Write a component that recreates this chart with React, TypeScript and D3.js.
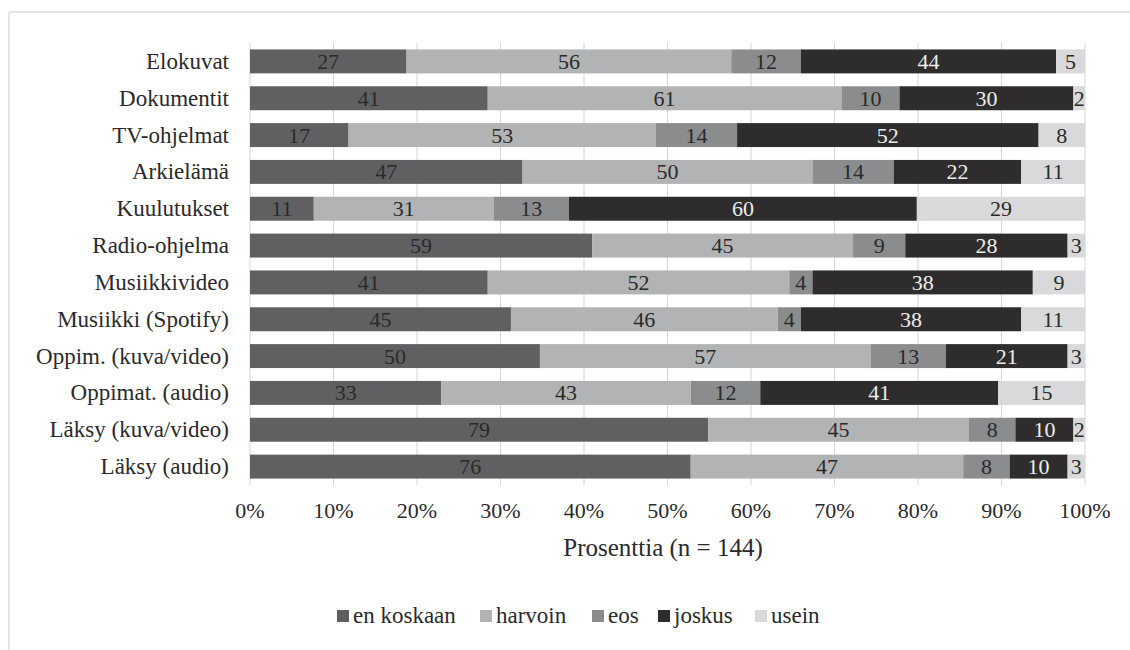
import React from "react";
import * as d3 from "d3";

const categories = [
  "Elokuvat",
  "Dokumentit",
  "TV-ohjelmat",
  "Arkielämä",
  "Kuulutukset",
  "Radio-ohjelma",
  "Musiikkivideo",
  "Musiikki (Spotify)",
  "Oppim. (kuva/video)",
  "Oppimat. (audio)",
  "Läksy (kuva/video)",
  "Läksy (audio)",
];
const seriesNames = ["en koskaan", "harvoin", "eos", "joskus", "usein"];
const enKoskaan = [27, 41, 17, 47, 11, 59, 41, 45, 50, 33, 79, 76];
const harvoin = [56, 61, 53, 50, 31, 45, 52, 46, 57, 43, 45, 47];
const eos = [12, 10, 14, 14, 13, 9, 4, 4, 13, 12, 8, 8];
const joskus = [44, 30, 52, 22, 60, 28, 38, 38, 21, 41, 10, 10];
const usein = [5, 2, 8, 11, 29, 3, 9, 11, 3, 15, 2, 3];
const xTicks = [0, 0.1, 0.2, 0.3, 0.4, 0.5, 0.6, 0.7, 0.8, 0.9, 1];
const axisTitle = "Prosenttia (n = 144)";

const colors = ["#606062", "#b2b3b5", "#8b8c8e", "#2e2c2d", "#d9d9db"];
const textColors = ["#2a2a2a", "#2a2a2a", "#2a2a2a", "#ececec", "#2a2a2a"];
const FONT = "'Liberation Serif', 'Times New Roman', serif";

export default function App() {
  const W = 1130,
    H = 650;
  const left = 250,
    right = 1085,
    top = 43,
    bottom = 485;
  const seriesVals = [enKoskaan, harvoin, eos, joskus, usein];
  const rows = categories.map((c, i) => {
    const o: any = { cat: c };
    seriesNames.forEach((s, j) => (o[s] = seriesVals[j][i]));
    return o;
  });
  const stack = d3.stack<any>().keys(seriesNames).offset(d3.stackOffsetExpand);
  const stacked = stack(rows);
  const x = d3.scaleLinear().domain([0, 1]).range([left, right]);
  const y = d3.scaleBand().domain(categories).range([top, bottom]).paddingInner(0.35).paddingOuter(0.175);
  const fmt = d3.format(".0%");

  const legendX = [337, 480, 592, 658, 755];

  return (
    <svg width={W} height={H} style={{ position: "absolute", left: 0, top: 0, background: "#fff" }}>
      <line x1={9} y1={12} x2={W} y2={12} stroke="#dcdcdc" strokeWidth={1.5} />
      <line x1={9} y1={12} x2={9} y2={H} stroke="#dcdcdc" strokeWidth={1.5} />
      {xTicks.map((t) => (
        <g key={t}>
          <line x1={x(t)} x2={x(t)} y1={top} y2={bottom} stroke="#d6d6d6" strokeWidth={1} />
          <text x={x(t)} y={518} textAnchor="middle" fontFamily={FONT} fontSize={22} fill="#2a2a2a">
            {fmt(t)}
          </text>
        </g>
      ))}
      {stacked.map((s, j) => (
        <g key={s.key}>
          {s.map((d, i) => {
            const x0 = x(d[0]),
              x1 = x(d[1]);
            const yy = y(categories[i])!;
            const cx = (x0 + x1) / 2;
            return (
              <g key={i}>
                <rect x={x0} y={yy} width={x1 - x0} height={y.bandwidth()} fill={colors[j]} />
                <text
                  x={cx}
                  y={yy + y.bandwidth() / 2 + 7.5}
                  textAnchor="middle"
                  fontFamily={FONT}
                  fontSize={22}
                  fill={textColors[j]}
                >
                  {seriesVals[j][i]}
                </text>
              </g>
            );
          })}
        </g>
      ))}
      {categories.map((c) => (
        <text
          key={c}
          x={229}
          y={y(c)! + y.bandwidth() / 2 + 7.5}
          textAnchor="end"
          fontFamily={FONT}
          fontSize={23}
          fill="#2a2a2a"
        >
          {c}
        </text>
      ))}
      <text x={663} y={556} textAnchor="middle" fontFamily={FONT} fontSize={25} fill="#2a2a2a">
        {axisTitle}
      </text>
      {seriesNames.map((s, j) => (
        <g key={s}>
          <rect x={legendX[j]} y={610} width={12} height={12} fill={colors[j]} />
          <text x={legendX[j] + 16} y={623} fontFamily={FONT} fontSize={23} fill="#2a2a2a">
            {s}
          </text>
        </g>
      ))}
    </svg>
  );
}
